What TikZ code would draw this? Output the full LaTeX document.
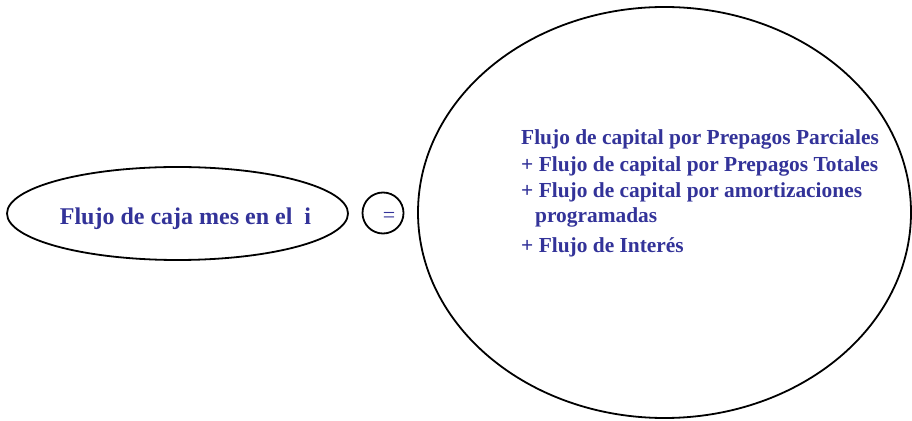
\documentclass[tikz,border=0pt]{standalone}
\usepackage{fontspec}
\setmainfont{Liberation Serif}
\usepackage{xcolor}
\usetikzlibrary{positioning,shapes.geometric}
\definecolor{txtblue}{RGB}{51,51,153}

\begin{document}
\begin{tikzpicture}[x=1pt,y=1pt,
    ov/.style={%
      ellipse, draw=black, line width=1.8pt, fill=white, inner sep=0pt
    },
    lbl/.style={%
      text=txtblue, font=\bfseries\fontsize{21.4}{25}\selectfont,
      inner sep=0pt, anchor=base west
    }
]
    \useasboundingbox (0,0) rectangle (912,420);

    \node[ov, minimum width=341pt, minimum height=93pt] (lhs) at (177.5,206.5) {};
    \node[lbl, anchor=base, font=\bfseries\fontsize{24}{28}\selectfont] (lhstext) at (185.5,195) {Flujo de caja mes en el\ \ i};

    \node[circle, draw=black, line width=1.8pt, minimum size=41pt, inner sep=0pt] (eq) at (383,207) {};
    \node[lbl, anchor=center, font=\fontsize{22}{26}\selectfont] (eqsign) at (389,203) {=};

    \node[ov, minimum width=493pt, minimum height=411pt] (rhs) at (664.5,207.5) {};
    \node[lbl] (t1) at (521,275) {Flujo de capital por Prepagos Parciales};
    \node[lbl] (t2) at (521,248) {+ Flujo de capital por Prepagos Totales};
    \node[lbl] (t3) at (521,222) {+ Flujo de capital por amortizaciones};
    \node[lbl] (t4) at (535,197) {programadas};
    \node[lbl] (t5) at (521,167) {+ Flujo de Interés};

  \end{tikzpicture}
\end{document}
